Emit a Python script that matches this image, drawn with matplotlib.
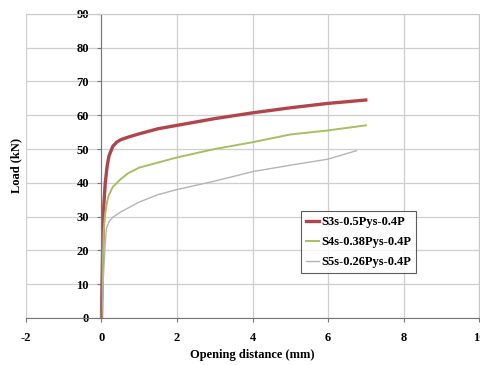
import matplotlib.pyplot as plt

# Load vs opening distance
x_s3 = [0.0, 0.03, 0.06, 0.1, 0.15, 0.2, 0.3, 0.4, 0.5, 0.7, 1.0, 1.5, 2.0, 3.0, 4.0, 5.0, 6.0, 7.0]
y_s3 = [0.0, 20.0, 33.0, 40.0, 45.0, 48.0, 50.8, 52.0, 52.7, 53.5, 54.5, 56.0, 57.0, 59.0, 60.7, 62.2, 63.5, 64.5]

x_s4 = [0.0, 0.03, 0.06, 0.1, 0.15, 0.2, 0.3, 0.5, 0.7, 1.0, 1.5, 2.0, 3.0, 4.0, 5.0, 6.0, 7.0]
y_s4 = [0.0, 15.0, 26.0, 31.0, 34.5, 36.5, 38.8, 41.0, 42.8, 44.5, 46.0, 47.5, 50.0, 52.0, 54.3, 55.5, 57.0]

x_s5 = [0.0, 0.05, 0.1, 0.13, 0.2, 0.3, 0.5, 1.0, 1.5, 2.0, 3.0, 4.0, 5.0, 6.0, 6.75]
y_s5 = [0.0, 12.0, 22.0, 26.5, 28.5, 29.8, 31.3, 34.3, 36.5, 38.0, 40.5, 43.3, 45.2, 47.0, 49.5]

labels = ["S3s-0.5Pys-0.4P", "S4s-0.38Pys-0.4P", "S5s-0.26Pys-0.4P"]
x_ticks = [-2, 0, 2, 4, 6, 8, 10]
y_ticks = [0, 10, 20, 30, 40, 50, 60, 70, 80, 90]

plt.rcParams['font.family'] = ['Liberation Serif', 'DejaVu Serif']
plt.rcParams['font.weight'] = 'bold'
plt.rcParams['axes.unicode_minus'] = False

fig = plt.figure(figsize=(4.81, 3.65), dpi=100)
ax = fig.add_axes([0.054, 0.129, 0.942, 0.833])

ax.plot(x_s3, y_s3, color="#b0464c", lw=2.4, label=labels[0])
ax.plot(x_s4, y_s4, color="#a9bd62", lw=1.4, label=labels[1])
ax.plot(x_s5, y_s5, color="#b4b4b4", lw=1.0, label=labels[2])

ax.set_xlim(-2, 10)
ax.set_ylim(0, 90)
ax.set_xticks(x_ticks)
ax.set_yticks(y_ticks)
ax.grid(True, color="#cfcfcf", lw=0.9)
ax.set_axisbelow(True)

ax.spines['left'].set_position(('data', 0))
ax.spines['left'].set_color("#777777")
ax.spines['bottom'].set_color("#777777")
ax.spines['top'].set_color("#c8c8c8")
ax.spines['right'].set_color("#c8c8c8")
ax.axvline(-2, color="#c8c8c8", lw=1.2, zorder=0)
ax.tick_params(axis='both', direction='out', length=3, color="#777777",
               labelsize=9)
ax.tick_params(axis='x', pad=7)
ax.tick_params(axis='y', pad=6)
for tl in ax.get_xticklabels() + ax.get_yticklabels():
    tl.set_fontweight('bold')

ax.set_xlabel("Opening distance (mm)", fontsize=9, fontweight='bold', labelpad=4)
ax.set_ylabel("Load (kN)", fontsize=9, fontweight='bold')
ax.yaxis.set_label_coords(-0.008, 0.5)

leg = ax.legend(loc='upper left', bbox_to_anchor=(0.607, 0.352), fontsize=9,
                frameon=True, fancybox=False, edgecolor="#333333",
                handlelength=1.0, handletextpad=0.2, borderpad=0.4,
                labelspacing=0.65, borderaxespad=0)
leg.get_frame().set_linewidth(0.8)
for t in leg.get_texts():
    t.set_fontweight('bold')

fig.savefig("out.png", dpi=100)
